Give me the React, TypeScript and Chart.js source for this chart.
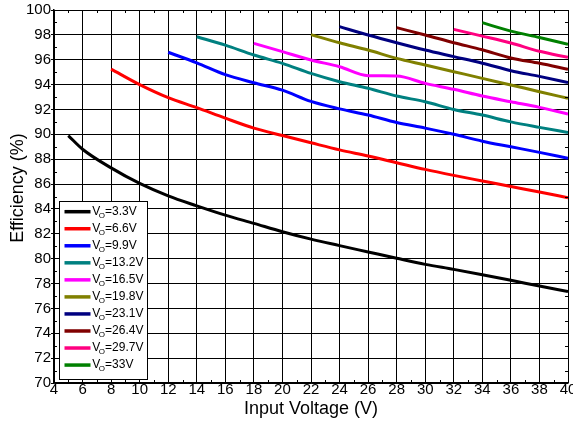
import React, { useEffect, useRef } from "react";
import { Chart, registerables } from "chart.js";

Chart.register(...registerables);

// ---- Data ----
const seriesLabels = ["3.3V", "6.6V", "9.9V", "13.2V", "16.5V", "19.8V", "23.1V", "26.4V", "29.7V", "33V"];
const seriesColors = ["#000000", "#ff0000", "#0000ff", "#008080", "#ff00ff", "#808000", "#000080", "#800000", "#ff0080", "#008000"];

const x33 = [5, 6, 8, 10, 12, 14, 16, 18, 20, 22, 24, 26, 28, 30, 32, 34, 36, 38, 40];
const y33 = [89.9, 88.8, 87.3, 86.05, 85.05, 84.25, 83.5, 82.84, 82.17, 81.57, 81.05, 80.54, 80.03, 79.54, 79.14, 78.71, 78.26, 77.8, 77.35];

const x66 = [8, 10, 12, 14, 16, 18, 20, 22, 24, 26, 28, 30, 32, 34, 36, 38, 40];
const y66 = [95.25, 94.0, 92.95, 92.15, 91.3, 90.5, 89.9, 89.32, 88.75, 88.26, 87.72, 87.18, 86.7, 86.25, 85.8, 85.36, 84.9];

const x99 = [12, 14, 16, 18, 20, 22, 24, 26, 28, 30, 32, 34, 36, 38, 40];
const y99 = [96.6, 95.75, 94.8, 94.15, 93.55, 92.65, 92.05, 91.55, 90.95, 90.5, 90.0, 89.45, 89.0, 88.55, 88.07];

const x132 = [14, 16, 18, 20, 22, 24, 26, 28, 30, 32, 34, 36, 38, 40];
const y132 = [97.85, 97.18, 96.38, 95.71, 94.9, 94.23, 93.7, 93.08, 92.62, 92.0, 91.55, 91.0, 90.56, 90.15];

const x165 = [18, 20, 22, 24, 26, 28, 30, 32, 34, 36, 38, 40];
const y165 = [97.32, 96.65, 95.98, 95.44, 94.72, 94.69, 94.1, 93.62, 93.08, 92.62, 92.17, 91.63];

const x198 = [22, 24, 26, 28, 30, 32, 34, 36, 38, 40];
const y198 = [98.02, 97.37, 96.78, 96.11, 95.58, 95.04, 94.5, 93.97, 93.43, 92.9];

const x231 = [24, 26, 28, 30, 32, 34, 36, 38, 40];
const y231 = [98.66, 97.99, 97.37, 96.78, 96.25, 95.72, 95.12, 94.66, 94.16];

const x264 = [28, 30, 32, 34, 36, 38, 40];
const y264 = [98.58, 97.99, 97.37, 96.8, 96.14, 95.71, 95.23];

const x297 = [32, 34, 36, 38, 40];
const y297 = [98.44, 97.9, 97.34, 96.68, 96.19];

const x330 = [34, 36, 38, 40];
const y330 = [98.98, 98.3, 97.79, 97.25];

const seriesX = [x33, x66, x99, x132, x165, x198, x231, x264, x297, x330];
const seriesY = [y33, y66, y99, y132, y165, y198, y231, y264, y297, y330];

const FONT = "'Liberation Sans', Arial, Helvetica, sans-serif";

const minorTicksPlugin = {
  id: "minorTicks",
  afterDraw(chart: any) {
    const { ctx, chartArea, scales } = chart;
    const xs = scales.x;
    const ys = scales.y;
    ctx.save();
    ctx.strokeStyle = "#000";
    ctx.lineWidth = 1;
    ctx.beginPath();
    for (let v = 5; v < 40; v += 2) {
      const px = Math.round(xs.getPixelForValue(v)) + 0.5;
      ctx.moveTo(px, chartArea.bottom);
      ctx.lineTo(px, chartArea.bottom - 3);
      ctx.moveTo(px, chartArea.top);
      ctx.lineTo(px, chartArea.top + 3);
    }
    for (let v = 71; v < 100; v += 2) {
      const py = Math.round(ys.getPixelForValue(v)) + 0.5;
      ctx.moveTo(chartArea.left, py);
      ctx.lineTo(chartArea.left + 3, py);
      ctx.moveTo(chartArea.right, py);
      ctx.lineTo(chartArea.right - 3, py);
    }
    ctx.stroke();
    ctx.restore();
  },
};

const legendPlugin = {
  id: "customLegend",
  afterDraw(chart: any) {
    const { ctx } = chart;
    ctx.save();
    const bx = 59.5, by = 201.5, bw = 88, bh = 178;
    ctx.fillStyle = "#fff";
    ctx.fillRect(bx, by, bw, bh);
    ctx.strokeStyle = "#000";
    ctx.lineWidth = 1;
    ctx.strokeRect(bx, by, bw, bh);
    for (let i = 0; i < seriesLabels.length; i++) {
      const cy = 211.7 + i * 17.04;
      ctx.strokeStyle = seriesColors[i];
      ctx.lineWidth = 3.5;
      ctx.beginPath();
      ctx.moveTo(64.5, cy);
      ctx.lineTo(90.5, cy);
      ctx.stroke();
      ctx.fillStyle = "#000";
      ctx.textBaseline = "middle";
      ctx.textAlign = "left";
      ctx.font = `12px ${FONT}`;
      let tx = 92.3;
      ctx.fillText("V", tx, cy);
      tx += ctx.measureText("V").width - 1.5;
      ctx.font = `8px ${FONT}`;
      ctx.fillText("O", tx, cy + 4);
      tx += ctx.measureText("O").width;
      ctx.font = `12px ${FONT}`;
      ctx.fillText("=" + seriesLabels[i], tx, cy);
    }
    ctx.restore();
  },
};

const yTitlePlugin = {
  id: "yTitle",
  afterDraw(chart: any) {
    const { ctx } = chart;
    ctx.save();
    ctx.translate(18.5, 188);
    ctx.rotate(-Math.PI / 2);
    ctx.fillStyle = "#000";
    ctx.font = `18px ${FONT}`;
    ctx.textAlign = "center";
    ctx.textBaseline = "middle";
    ctx.fillText("Efficiency (%)", 0, 0);
    ctx.restore();
  },
};

export default function App() {
  const ref = useRef<HTMLCanvasElement>(null);

  useEffect(() => {
    const canvas = ref.current;
    if (!canvas) return;
    const datasets = seriesLabels.map((lab, i) => ({
      label: "VO=" + lab,
      data: seriesX[i].map((x, j) => ({ x, y: seriesY[i][j] })),
      borderColor: seriesColors[i],
      backgroundColor: seriesColors[i],
      borderWidth: 3,
      pointRadius: 0,
      cubicInterpolationMode: "monotone" as const,
      fill: false,
    }));
    const chart = new Chart(canvas, {
      type: "line",
      data: { datasets },
      options: {
        animation: false,
        responsive: false,
        maintainAspectRatio: false,
        layout: { padding: { top: 10, right: 5, left: 0, bottom: 0 } },
        plugins: {
          legend: { display: false },
          tooltip: { enabled: false },
        },
        scales: {
          x: {
            type: "linear",
            min: 4,
            max: 40,
            ticks: {
              stepSize: 2,
              autoSkip: false,
              maxRotation: 0,
              padding: -2,
              color: "#000",
              font: { family: FONT, size: 15 },
            },
            grid: { color: "#000", lineWidth: 1, drawTicks: false },
            border: { color: "#000", width: 1.5 },
            title: {
              display: true,
              text: "Input Voltage (V)",
              color: "#000",
              font: { family: FONT, size: 18 },
              padding: { top: 0, bottom: 3 },
            },
            afterFit(scale: any) {
              scale.height = 40;
              scale.paddingLeft = 0;
              scale.paddingRight = 0;
            },
          },
          y: {
            type: "linear",
            min: 70,
            max: 100,
            ticks: {
              stepSize: 2,
              autoSkip: false,
              padding: 0,
              color: "#000",
              font: { family: FONT, size: 15 },
            },
            grid: { color: "#000", lineWidth: 1, tickLength: 3 },
            border: { color: "#000", width: 1.5 },
            afterFit(scale: any) {
              scale.width = 54;
              scale.paddingTop = 0;
              scale.paddingBottom = 0;
            },
          },
        },
      },
      plugins: [minorTicksPlugin, yTitlePlugin, legendPlugin],
    });
    return () => chart.destroy();
  }, []);

  return (
    <div style={{ position: "fixed", left: 0, top: 0, width: 573, height: 423, background: "#fff" }}>
      <canvas ref={ref} width={573} height={423} style={{ width: 573, height: 423 }} />
    </div>
  );
}
